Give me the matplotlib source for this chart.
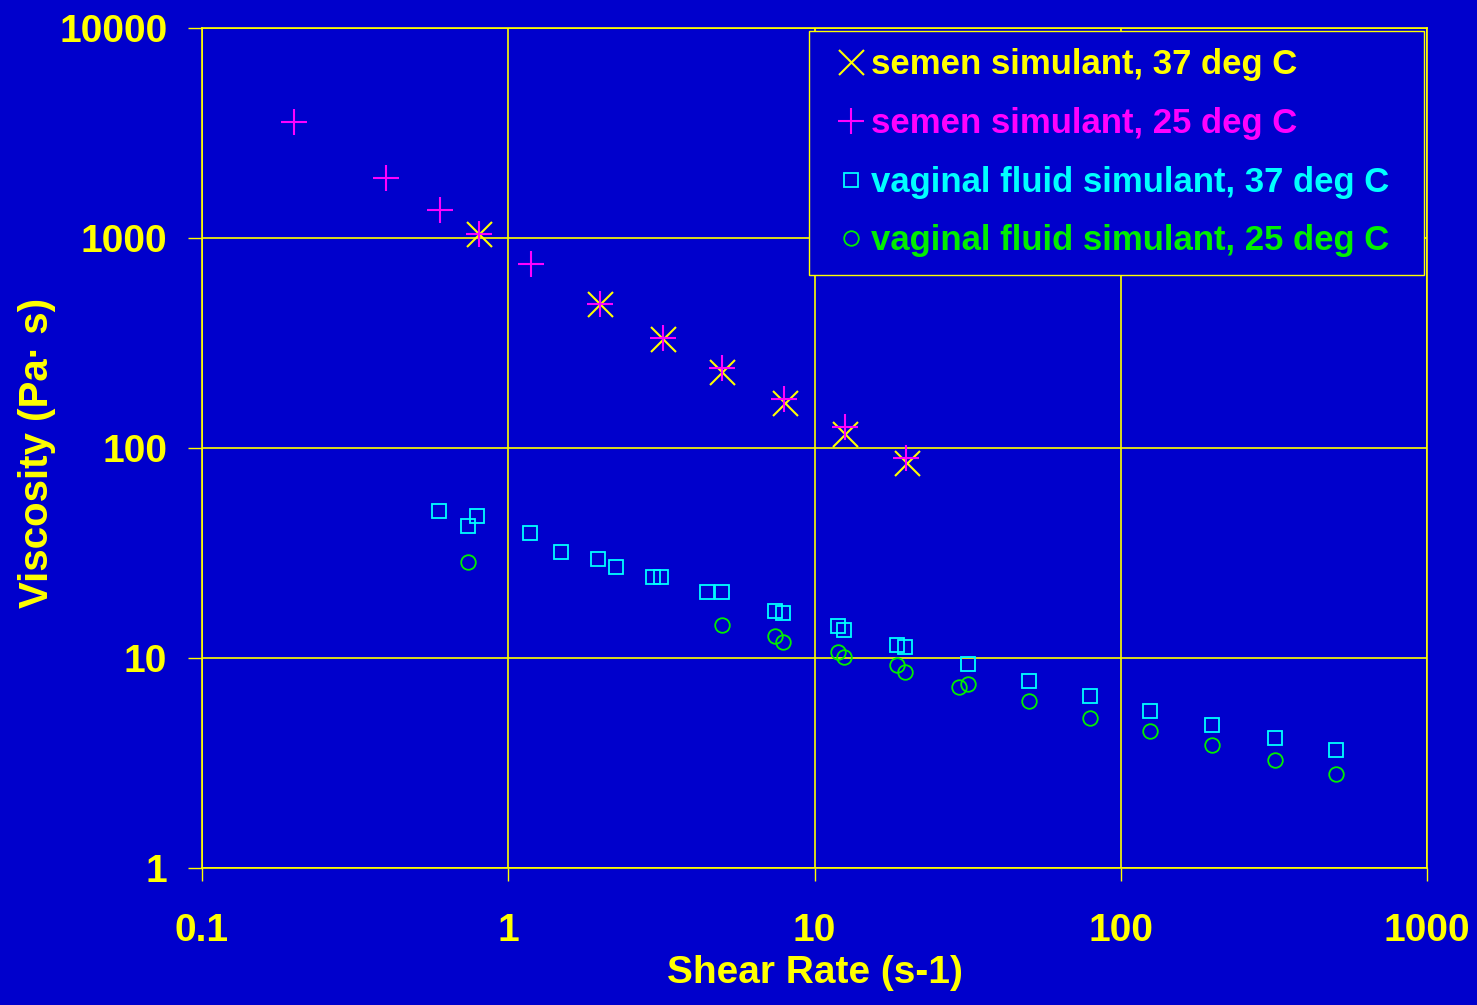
import matplotlib.pyplot as plt

# Semen simulant, 37 deg C
semen37_rate = [0.8, 2.0, 3.2, 5.0, 8.0, 12.6, 20.0]
semen37_visc = [1043, 487, 330, 231, 163, 117, 85]

# Semen simulant, 25 deg C
semen25_rate = [0.2, 0.4, 0.6, 0.8, 1.19, 2.0, 3.2, 5.0, 7.95, 12.6, 19.9]
semen25_visc = [3570, 1930, 1355, 1045, 750, 487, 335, 241, 172, 126, 90]

# Vaginal fluid simulant, 37 deg C
vag37_rate = [0.596, 0.741, 0.789, 1.18, 1.49, 1.97, 2.24, 2.97, 3.16, 4.46, 5.0,
              7.41, 7.91, 11.9, 12.5, 18.6, 19.8, 31.7, 50, 79.2, 125, 198, 318, 504]
vag37_visc = [50.1, 42.4, 47.3, 39.4, 32.1, 29.7, 27.1, 24.2, 24.2, 20.6, 20.6,
              16.7, 16.4, 14.2, 13.6, 11.5, 11.3, 9.4, 7.8, 6.6, 5.6, 4.81, 4.14, 3.63]

# Vaginal fluid simulant, 25 deg C
vag25_rate = [0.741, 5.0, 7.41, 7.91, 11.9, 12.5, 18.6, 19.8, 29.7, 31.7, 50, 79.2,
              125, 198, 318, 504]
vag25_visc = [28.7, 14.4, 12.7, 11.96, 10.7, 10.1, 9.23, 8.55, 7.25, 7.52, 6.24, 5.18,
              4.48, 3.85, 3.26, 2.81]

x_ticks = [0.1, 1, 10, 100, 1000]
x_labels = ["0.1", "1", "10", "100", "1000"]
y_ticks = [1, 10, 100, 1000, 10000]
y_labels = ["1", "10", "100", "1000", "10000"]

labels = ["semen simulant, 37 deg C", "semen simulant, 25 deg C",
          "vaginal fluid simulant, 37 deg C", "vaginal fluid simulant, 25 deg C"]
colors = ["#FFFF00", "#FF00FF", "#00FFFF", "#00EE00"]

BG = "#0000CC"
YEL = "#FFFF00"
FONT = "Liberation Sans"

fig = plt.figure(figsize=(14.77, 10.05), dpi=100, facecolor=BG)
fig.subplots_adjust(left=202 / 1477, right=1427 / 1477,
                    bottom=1 - 868 / 1005, top=1 - 28 / 1005)
ax = fig.add_subplot(111)
ax.set_facecolor(BG)

ax.plot(semen37_rate, semen37_visc, ls="none", marker="x", ms=18, mew=1.5,
        color=colors[0], label=labels[0])
ax.plot(semen25_rate, semen25_visc, ls="none", marker="+", ms=18.5, mew=1.5,
        color=colors[1], label=labels[1])
ax.plot(vag37_rate, vag37_visc, ls="none", marker="s", ms=10.5, mew=1.3,
        mfc="none", mec=colors[2], label=labels[2])
ax.plot(vag25_rate, vag25_visc, ls="none", marker="o", ms=10.5, mew=1.3,
        mfc="none", mec=colors[3], label=labels[3])

ax.set_xscale("log")
ax.set_yscale("log")
ax.set_xlim(0.1, 1000)
ax.set_ylim(1, 10000)
ax.set_xticks(x_ticks, x_labels)
ax.set_yticks(y_ticks, y_labels)
ax.minorticks_off()

ax.grid(True, color=YEL, lw=1.2)
ax.set_axisbelow(True)
for sp in ax.spines.values():
    sp.set_color(YEL)
    sp.set_linewidth(1.2)

ax.tick_params(axis="x", direction="out", length=9.5, width=1, color=YEL,
               pad=23, labelcolor=YEL, labelsize=28)
ax.tick_params(axis="y", direction="out", length=10, width=1, color=YEL,
               pad=15, labelcolor=YEL, labelsize=28)
for t in ax.get_xticklabels() + ax.get_yticklabels():
    t.set_fontfamily(FONT)
    t.set_fontweight("bold")

ax.set_xlabel("Shear Rate (s-1)", fontsize=28, fontweight="bold", color=YEL,
              fontfamily=FONT)
ax.set_ylabel("Viscosity (Pa· s)", fontsize=29, fontweight="bold", color=YEL,
              fontfamily=FONT)
ax.xaxis.set_label_coords(0.5, -0.103)
ax.yaxis.set_label_coords(-0.119, 0.494)

# legend box
x0, y0 = 809 / 1477, 1 - 268 / 1005
w, h = 615 / 1477, 237 / 1005
leg = ax.legend(loc="upper left", bbox_to_anchor=(x0, y0, w, h),
                bbox_transform=fig.transFigure, mode="expand",
                prop={"family": FONT, "weight": "bold", "size": 25},
                borderaxespad=0, borderpad=0.5, labelspacing=0.74,
                handlelength=1.4, handletextpad=-0.1, frameon=True,
                fancybox=False, facecolor=BG, edgecolor=YEL, framealpha=1)
leg.get_frame().set_linewidth(1.0)
for txt, c in zip(leg.get_texts(), colors):
    txt.set_color(c)

fig.savefig("out.png", dpi=100, facecolor=BG)
